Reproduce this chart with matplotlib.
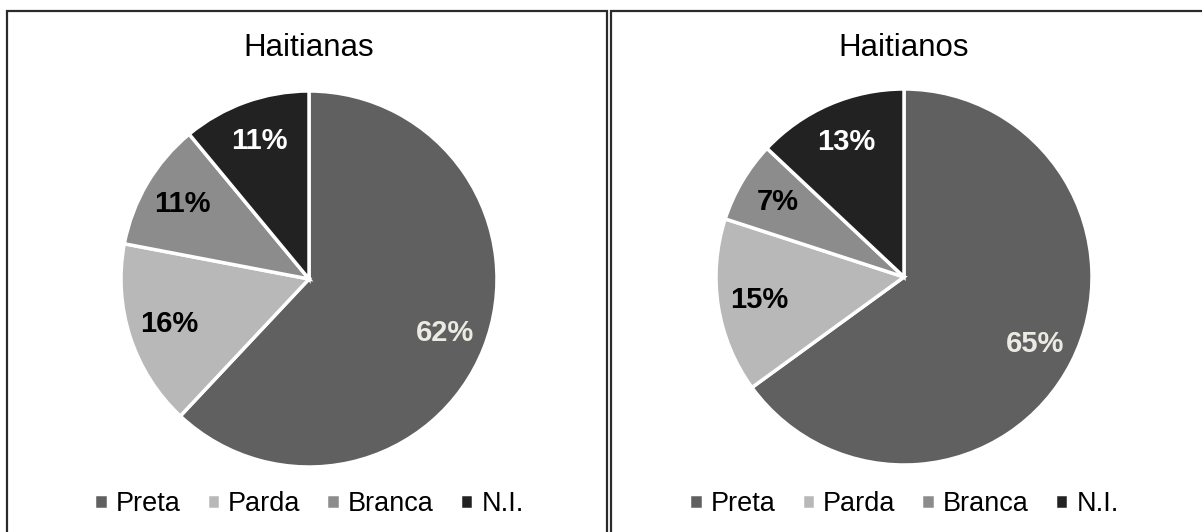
import matplotlib.pyplot as plt
from matplotlib.patches import Rectangle

plt.rcParams['font.family'] = ['Liberation Sans', 'DejaVu Sans']

categories = ['Preta', 'Parda', 'Branca', 'N.I.']
haitianas = [62, 16, 11, 11]
haitianos = [65, 15, 7, 13]
titles = ['Haitianas', 'Haitianos']
colors = ['#606060', '#b8b8b8', '#8c8c8c', '#222222']
label_colors = ['#ebebe3', 'black', 'black', 'white']

W, H = 1202, 532
fig = plt.figure(figsize=(W / 100, H / 100), dpi=100)

# panel frames in pixels (x0, x1); top at y=11, bottom runs off the image
frames = [(7, 607), (611, 1206)]
for x0, x1 in frames:
    fig.patches.append(Rectangle((x0 / W, -0.05), (x1 - x0) / W, 1 - 11 / H + 0.05,
                                 transform=fig.transFigure, fill=False,
                                 edgecolor='#2a2a2a', lw=1.6))

centers = [(309, 279), (904, 277)]
r = 188
for data, title, (cx, cy) in zip([haitianas, haitianos], titles, centers):
    ax = fig.add_axes([(cx - r) / W, 1 - (cy + r) / H, 2 * r / W, 2 * r / H])
    wedges, texts, autotexts = ax.pie(
        data, colors=colors, startangle=90, counterclock=False,
        autopct='%d%%', pctdistance=0.78,
        wedgeprops=dict(edgecolor='white', linewidth=2.5),
        textprops=dict(fontsize=21, fontweight='bold'))
    for t, c in zip(autotexts, label_colors):
        t.set_color(c)
    ax.set_xlim(-1, 1)
    ax.set_ylim(-1, 1)
    ax.set_aspect('equal')
    fig.text(cx / W, 1 - 48 / H, title, ha='center', va='center', fontsize=22.5)
    fig.legend(wedges, categories, loc='center', ncol=4,
               bbox_to_anchor=(cx / W, 1 - 504 / H), frameon=False,
               fontsize=19.5, handlelength=0.5, handleheight=0.5,
               handletextpad=0.3, columnspacing=0.95)

fig.savefig('out.png', dpi=100)
